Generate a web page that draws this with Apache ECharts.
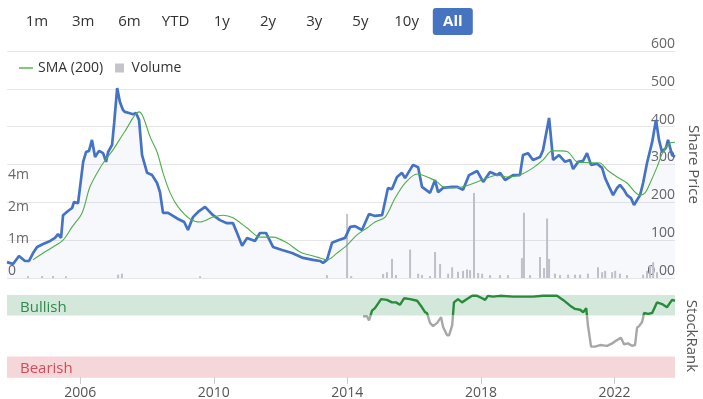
<!DOCTYPE html>
<html>
<head>
<meta charset="utf-8">
<script src="https://cdn.jsdelivr.net/npm/echarts@6/dist/echarts.min.js"></script>
<style>
  html, body { margin: 0; padding: 0; background: #fff; }
  #chart { width: 703px; height: 399px; }
</style>
</head>
<body>
<div id="chart"></div>
<script>
// range buttons shown above the chart
const rangeButtons = ['1m', '3m', '6m', 'YTD', '1y', '2y', '3y', '5y', '10y', 'All'];
const yearTicks = [2006, 2010, 2014, 2018, 2022];

// share price
const price = [
  ['2003-10-24', 42], ['2003-12-29', 37], ['2004-03-03', 58], ['2004-05-08', 45], ['2004-06-21', 45],
  ['2004-08-04', 66], ['2004-09-17', 82], ['2004-11-22', 90], ['2005-02-07', 98], ['2005-04-01', 106],
  ['2005-05-04', 116], ['2005-06-06', 106], ['2005-06-28', 166], ['2005-08-21', 177], ['2005-10-05', 185],
  ['2005-10-26', 201], ['2005-12-09', 198], ['2006-02-03', 307], ['2006-03-06', 333], ['2006-04-08', 336],
  ['2006-05-10', 365], ['2006-06-13', 320], ['2006-07-26', 336], ['2006-09-09', 330], ['2006-10-11', 307],
  ['2006-11-03', 333], ['2006-12-16', 352], ['2007-01-08', 410], ['2007-02-10', 502], ['2007-03-12', 465],
  ['2007-04-14', 444], ['2007-05-06', 439], ['2007-06-19', 436], ['2007-08-02', 433], ['2007-09-04', 436],
  ['2007-10-07', 418], ['2007-11-09', 325], ['2008-01-03', 278], ['2008-02-27', 272], ['2008-04-21', 251],
  ['2008-05-23', 227], ['2008-06-25', 172], ['2008-08-19', 172], ['2008-10-13', 164], ['2008-12-07', 156],
  ['2009-02-12', 148], ['2009-03-25', 127], ['2009-05-19', 161], ['2009-07-24', 177], ['2009-09-28', 188],
  ['2009-12-24', 166], ['2010-03-10', 153], ['2010-05-25', 145], ['2010-07-30', 145], ['2010-09-13', 119],
  ['2010-11-07', 85], ['2011-01-01', 106], ['2011-03-27', 98], ['2011-05-21', 119], ['2011-07-26', 119],
  ['2011-10-11', 82], ['2012-01-18', 74], ['2012-05-06', 66], ['2012-09-04', 53], ['2012-12-22', 48],
  ['2013-03-08', 45], ['2013-04-10', 40], ['2013-05-23', 48], ['2013-07-17', 93], ['2013-09-22', 100],
  ['2013-12-07', 106], ['2014-02-01', 135], ['2014-03-25', 137], ['2014-06-10', 127], ['2014-08-26', 169],
  ['2014-10-30', 164], ['2015-01-16', 166], ['2015-03-21', 238], ['2015-05-04', 235], ['2015-06-28', 267],
  ['2015-08-21', 278], ['2015-09-24', 264], ['2015-12-20', 299], ['2016-02-14', 293], ['2016-03-27', 241],
  ['2016-06-23', 225], ['2016-08-17', 259], ['2016-09-19', 227], ['2016-11-13', 238], ['2017-02-20', 241],
  ['2017-04-14', 241], ['2017-06-19', 233], ['2017-08-24', 272], ['2017-11-20', 283], ['2018-01-25', 254],
  ['2018-04-10', 280], ['2018-06-26', 272], ['2018-07-28', 278], ['2018-09-22', 259], ['2018-12-18', 272],
  ['2019-03-03', 272], ['2019-04-06', 325], ['2019-05-30', 330], ['2019-07-24', 312], ['2019-10-09', 320],
  ['2019-11-11', 338], ['2020-01-16', 423], ['2020-02-29', 312], ['2020-05-04', 325], ['2020-07-09', 307],
  ['2020-09-02', 312], ['2020-10-05', 288], ['2020-11-29', 307], ['2021-01-23', 310], ['2021-03-06', 330],
  ['2021-04-19', 299], ['2021-06-24', 302], ['2021-08-18', 291], ['2021-09-20', 264], ['2021-11-03', 241],
  ['2021-12-16', 219], ['2022-01-29', 238], ['2022-03-01', 246], ['2022-04-14', 233], ['2022-05-17', 219],
  ['2022-06-30', 211], ['2022-08-02', 193], ['2022-09-04', 206], ['2022-10-07', 219], ['2022-11-09', 251],
  ['2022-12-22', 304], ['2023-02-16', 359], ['2023-03-30', 418], ['2023-05-02', 365], ['2023-06-04', 333],
  ['2023-07-17', 344], ['2023-08-09', 365], ['2023-09-22', 325], ['2023-10-24', 320]
];

// 200 day moving average
const sma = [
  ['2004-08-04', 48], ['2004-11-22', 66], ['2005-03-10', 82], ['2005-06-28', 100], ['2005-10-05', 135],
  ['2006-01-22', 172], ['2006-04-18', 241], ['2006-08-06', 291], ['2006-10-22', 318], ['2006-12-30', 340],
  ['2007-05-06', 388], ['2007-10-07', 439], ['2007-11-20', 426], ['2008-02-05', 373], ['2008-04-21', 333],
  ['2008-06-25', 278], ['2008-09-11', 225], ['2008-12-07', 188], ['2009-04-16', 156], ['2009-08-04', 148],
  ['2009-12-24', 161], ['2010-04-12', 166], ['2010-07-30', 159], ['2011-01-01', 132], ['2011-05-21', 108],
  ['2011-10-11', 108], ['2012-03-12', 93], ['2012-08-02', 69], ['2012-12-22', 58], ['2013-03-08', 53],
  ['2013-05-23', 48], ['2013-09-11', 66], ['2013-12-29', 87], ['2014-04-16', 114], ['2014-08-04', 132],
  ['2014-10-30', 148], ['2015-02-18', 161], ['2015-06-06', 211], ['2015-09-24', 251], ['2016-02-03', 275],
  ['2016-06-23', 264], ['2016-09-09', 254], ['2016-11-13', 241], ['2017-03-01', 238], ['2017-06-19', 241],
  ['2017-11-20', 254], ['2018-04-10', 267], ['2018-06-26', 272], ['2018-10-13', 267], ['2019-03-03', 272],
  ['2019-07-24', 291], ['2019-11-11', 312], ['2020-02-18', 336], ['2020-05-15', 336], ['2020-08-11', 333],
  ['2020-11-18', 307], ['2021-03-06', 305], ['2021-07-26', 304], ['2021-10-11', 286], ['2022-01-29', 267],
  ['2022-05-17', 251], ['2022-08-13', 227], ['2022-10-07', 219], ['2022-12-01', 225], ['2023-01-25', 251],
  ['2023-04-10', 293], ['2023-06-15', 333], ['2023-08-31', 357], ['2023-10-24', 359]
];

// volume in millions
const volume = [
  ['2004-06-10', 0.08], ['2004-11-11', 0.08], ['2005-03-10', 0.08], ['2005-07-30', 0.07], ['2007-02-20', 0.14],
  ['2007-04-03', 0.18], ['2009-08-04', 0.07], ['2013-05-23', 0.12], ['2013-12-29', 2.68], ['2014-02-12', 0.08],
  ['2015-01-27', 0.17], ['2015-03-10', 0.24], ['2015-05-04', 0.8], ['2015-06-17', 0.12], ['2015-11-18', 1.19],
  ['2016-02-14', 0.18], ['2016-03-27', 0.12], ['2016-06-23', 0.08], ['2016-08-17', 1.09], ['2016-10-11', 0.59],
  ['2017-01-07', 0.18], ['2017-02-20', 0.45], ['2017-04-25', 0.26], ['2017-06-19', 0.3], ['2017-08-02', 0.36],
  ['2017-09-04', 0.33], ['2017-10-17', 3.56], ['2017-12-01', 0.21], ['2018-01-14', 0.18], ['2018-04-10', 0.12],
  ['2018-07-28', 0.12], ['2018-10-24', 0.12], ['2019-03-25', 0.83], ['2019-04-16', 2.73], ['2019-06-21', 0.12],
  ['2019-10-09', 0.88], ['2019-11-22', 0.42], ['2019-12-25', 2.49], ['2020-01-16', 0.8], ['2020-03-21', 0.18],
  ['2020-05-15', 0.12], ['2020-08-11', 0.14], ['2020-10-26', 0.14], ['2020-12-20', 0.14], ['2021-03-16', 0.18],
  ['2021-07-04', 0.45], ['2021-08-18', 0.24], ['2021-09-20', 0.3], ['2021-12-05', 0.24], ['2022-01-08', 0.3],
  ['2022-03-01', 0.18], ['2022-05-17', 0.12], ['2022-11-09', 0.14], ['2022-12-22', 0.3], ['2023-01-25', 0.53],
  ['2023-02-27', 0.66], ['2023-04-10', 0.24]
];

// StockRank 0..100
const stockRank = [
  ['2014-06-21', 74], ['2014-08-04', 74], ['2014-08-26', 69], ['2014-09-28', 81], ['2014-10-30', 84],
  ['2015-01-05', 95], ['2015-03-10', 94], ['2015-05-04', 91], ['2015-06-17', 91], ['2015-07-30', 88],
  ['2015-09-13', 96], ['2015-11-18', 95], ['2016-02-03', 93], ['2016-03-27', 85], ['2016-04-29', 79],
  ['2016-05-21', 78], ['2016-06-23', 66], ['2016-07-26', 62], ['2016-09-09', 66], ['2016-10-22', 73],
  ['2016-11-13', 61], ['2016-12-27', 51], ['2017-01-18', 51], ['2017-02-20', 63], ['2017-03-12', 91],
  ['2017-04-25', 95], ['2017-06-08', 91], ['2017-08-02', 95], ['2017-09-26', 99], ['2017-11-20', 99],
  ['2018-01-14', 96], ['2018-02-16', 94], ['2018-03-18', 99], ['2018-05-12', 98], ['2018-07-28', 99],
  ['2018-12-18', 98], ['2019-03-03', 98], ['2019-07-24', 98], ['2019-11-11', 99], ['2020-04-12', 99],
  ['2020-06-17', 94], ['2020-09-02', 87], ['2020-10-26', 83], ['2020-12-20', 82], ['2021-01-23', 79],
  ['2021-02-25', 84], ['2021-03-16', 63], ['2021-04-19', 37], ['2021-06-02', 37], ['2021-07-26', 39],
  ['2021-10-11', 38], ['2021-12-05', 41], ['2022-01-29', 45], ['2022-03-12', 48], ['2022-04-14', 40],
  ['2022-05-28', 41], ['2022-07-10', 38], ['2022-08-13', 39], ['2022-09-04', 60], ['2022-09-26', 62],
  ['2022-10-29', 67], ['2022-11-20', 78], ['2023-01-03', 77], ['2023-02-16', 78], ['2023-04-10', 91],
  ['2023-06-04', 89], ['2023-07-28', 85], ['2023-09-22', 94], ['2023-10-24', 93]
];

const axisMin = '2003-10-24';
const axisMax = '2023-10-24';
const bullishLevel = 75;
const bearishLevel = 25;
const FONT = '"Open Sans", "DejaVu Sans", sans-serif';

// layout of the two panels
const mainGrid = { left: 7, right: 28, top: 51, height: 227, outerBoundsMode: 'none' };
const rankGrid = { left: 7, right: 28, top: 295, height: 82, outerBoundsMode: 'none' };

// x axis is a plain value axis in milliseconds so the year ticks can be placed exactly
const ms = d => +new Date(d);
const toXY = rows => rows.map(([d, v]) => [ms(d), v]);
const tickTimes = yearTicks.map(y => ms(y + '-01-01'));

const chart = echarts.init(document.getElementById('chart'));

const buttons = [];
rangeButtons.forEach((b, i) => {
  const cx = 37 + i * 46.2;
  if (b === 'All') {
    buttons.push({
      type: 'rect',
      shape: { x: cx - 20, y: 8, width: 40, height: 27, r: 3 },
      style: { fill: '#4774c0' }
    });
  }
  buttons.push({
    type: 'text',
    x: cx,
    y: 21.5,
    style: {
      text: b,
      align: 'center',
      verticalAlign: 'middle',
      font: (b === 'All' ? 'bold ' : '') + '15px ' + FONT,
      fill: b === 'All' ? '#fff' : '#333'
    }
  });
});

// green above the bullish level, grey below it (split at the band edge of the rank panel)
const splitAt = (100 - bullishLevel) / 100;
const rankColor = new echarts.graphic.LinearGradient(0, rankGrid.top, 0, rankGrid.top + rankGrid.height, [
  { offset: 0, color: '#2a8a3c' },
  { offset: splitAt, color: '#2a8a3c' },
  { offset: splitAt, color: '#a7a7a7' },
  { offset: 1, color: '#a7a7a7' }
], true);

const xBase = {
  type: 'value', min: ms(axisMin), max: ms(axisMax),
  axisLine: { show: false }, splitLine: { show: false }
};

const option = {
  backgroundColor: '#fff',
  animation: false,
  textStyle: { fontFamily: FONT },
  graphic: buttons,
  legend: {
    left: 14,
    top: 56,
    itemWidth: 14,
    itemHeight: 9,
    itemGap: 12,
    textStyle: { fontSize: 14, color: '#333', fontFamily: FONT },
    data: [
      { name: 'SMA (200)', icon: 'path://M0,0 L14,0 L14,1.4 L0,1.4 Z' },
      { name: 'Volume', icon: 'path://M0,0 L8,0 L8,8 L0,8 Z' }
    ]
  },
  grid: [mainGrid, rankGrid],
  xAxis: [
    Object.assign({}, xBase, {
      gridIndex: 0,
      axisTick: { show: false },
      axisLabel: { show: false }
    }),
    Object.assign({}, xBase, {
      gridIndex: 1,
      axisTick: { show: true, customValues: tickTimes, length: 7, lineStyle: { color: '#cccccc' } },
      axisLabel: {
        customValues: tickTimes,
        margin: 9,
        fontSize: 14,
        color: '#555',
        fontFamily: FONT,
        formatter: v => String(new Date(v).getFullYear())
      }
    })
  ],
  yAxis: [
    {
      type: 'value', gridIndex: 0, position: 'right', min: 0, max: 600, interval: 100,
      name: 'Share Price', nameLocation: 'middle', nameRotate: -90, nameGap: 6,
      nameTextStyle: { fontSize: 15, color: '#555', fontFamily: FONT },
      axisLine: { show: false }, axisTick: { show: false },
      axisLabel: {
        inside: true, margin: 0, verticalAlign: 'bottom', fontSize: 14, color: '#666',
        formatter: v => (v === 0 ? '0.00' : String(v))
      },
      splitLine: { lineStyle: { color: '#e6e6e6' } }
    },
    {
      type: 'value', gridIndex: 0, position: 'left', min: 0, max: 9.5, interval: 4 / 3,
      axisLine: { show: false }, axisTick: { show: false },
      axisLabel: {
        inside: true, margin: 1, verticalAlign: 'bottom', fontSize: 14, color: '#666',
        formatter: v => (v < 0.01 ? '0' : v < 4.5 ? Math.floor(v + 1e-6) + 'm' : '')
      },
      splitLine: { show: false }
    },
    {
      type: 'value', gridIndex: 1, position: 'right', min: 0, max: 100, interval: 100,
      name: 'StockRank', nameLocation: 'middle', nameRotate: -90, nameGap: 6,
      nameTextStyle: { fontSize: 15, color: '#555', fontFamily: FONT },
      axisLine: { show: false }, axisTick: { show: false },
      axisLabel: {
        inside: true, margin: 3, verticalAlign: 'bottom', fontSize: 14, color: '#666',
        formatter: v => (v === 0 ? '0' : '')
      },
      splitLine: { lineStyle: { color: '#e6e6e6' } }
    }
  ],
  series: [
    {
      name: 'Share Price', type: 'line', xAxisIndex: 0, yAxisIndex: 0,
      data: toXY(price), showSymbol: false, z: 4,
      lineStyle: { color: '#4472c4', width: 2.7 },
      itemStyle: { color: '#4472c4' },
      areaStyle: { color: 'rgba(70,100,190,0.06)' }
    },
    {
      name: 'SMA (200)', type: 'line', xAxisIndex: 0, yAxisIndex: 0,
      data: toXY(sma), showSymbol: false, smooth: 0.3, z: 5,
      lineStyle: { color: '#4fae4a', width: 1.1 },
      itemStyle: { color: '#4fae4a' }
    },
    {
      name: 'Volume', type: 'bar', xAxisIndex: 0, yAxisIndex: 1,
      data: toXY(volume), barWidth: 2, z: 3,
      itemStyle: { color: '#c4c4ca' }
    },
    {
      name: 'StockRank', type: 'line', xAxisIndex: 1, yAxisIndex: 2,
      data: toXY(stockRank), showSymbol: false, z: 4,
      lineStyle: { width: 2.4, color: rankColor },
      itemStyle: { color: '#2a8a3c' },
      markArea: {
        silent: true,
        data: [
          [
            { yAxis: bullishLevel, name: 'Bullish', itemStyle: { color: '#d3e8da' },
              label: { color: '#2f8a4a' } },
            { yAxis: 100 }
          ],
          [
            { yAxis: 0, name: 'Bearish', itemStyle: { color: '#f5d6d9' },
              label: { color: '#d34b58' } },
            { yAxis: bearishLevel }
          ]
        ],
        label: { position: 'insideLeft', distance: 13, offset: [0, 2], fontSize: 15, fontFamily: FONT }
      }
    }
  ]
};

chart.setOption(option);
</script>
</body>
</html>
